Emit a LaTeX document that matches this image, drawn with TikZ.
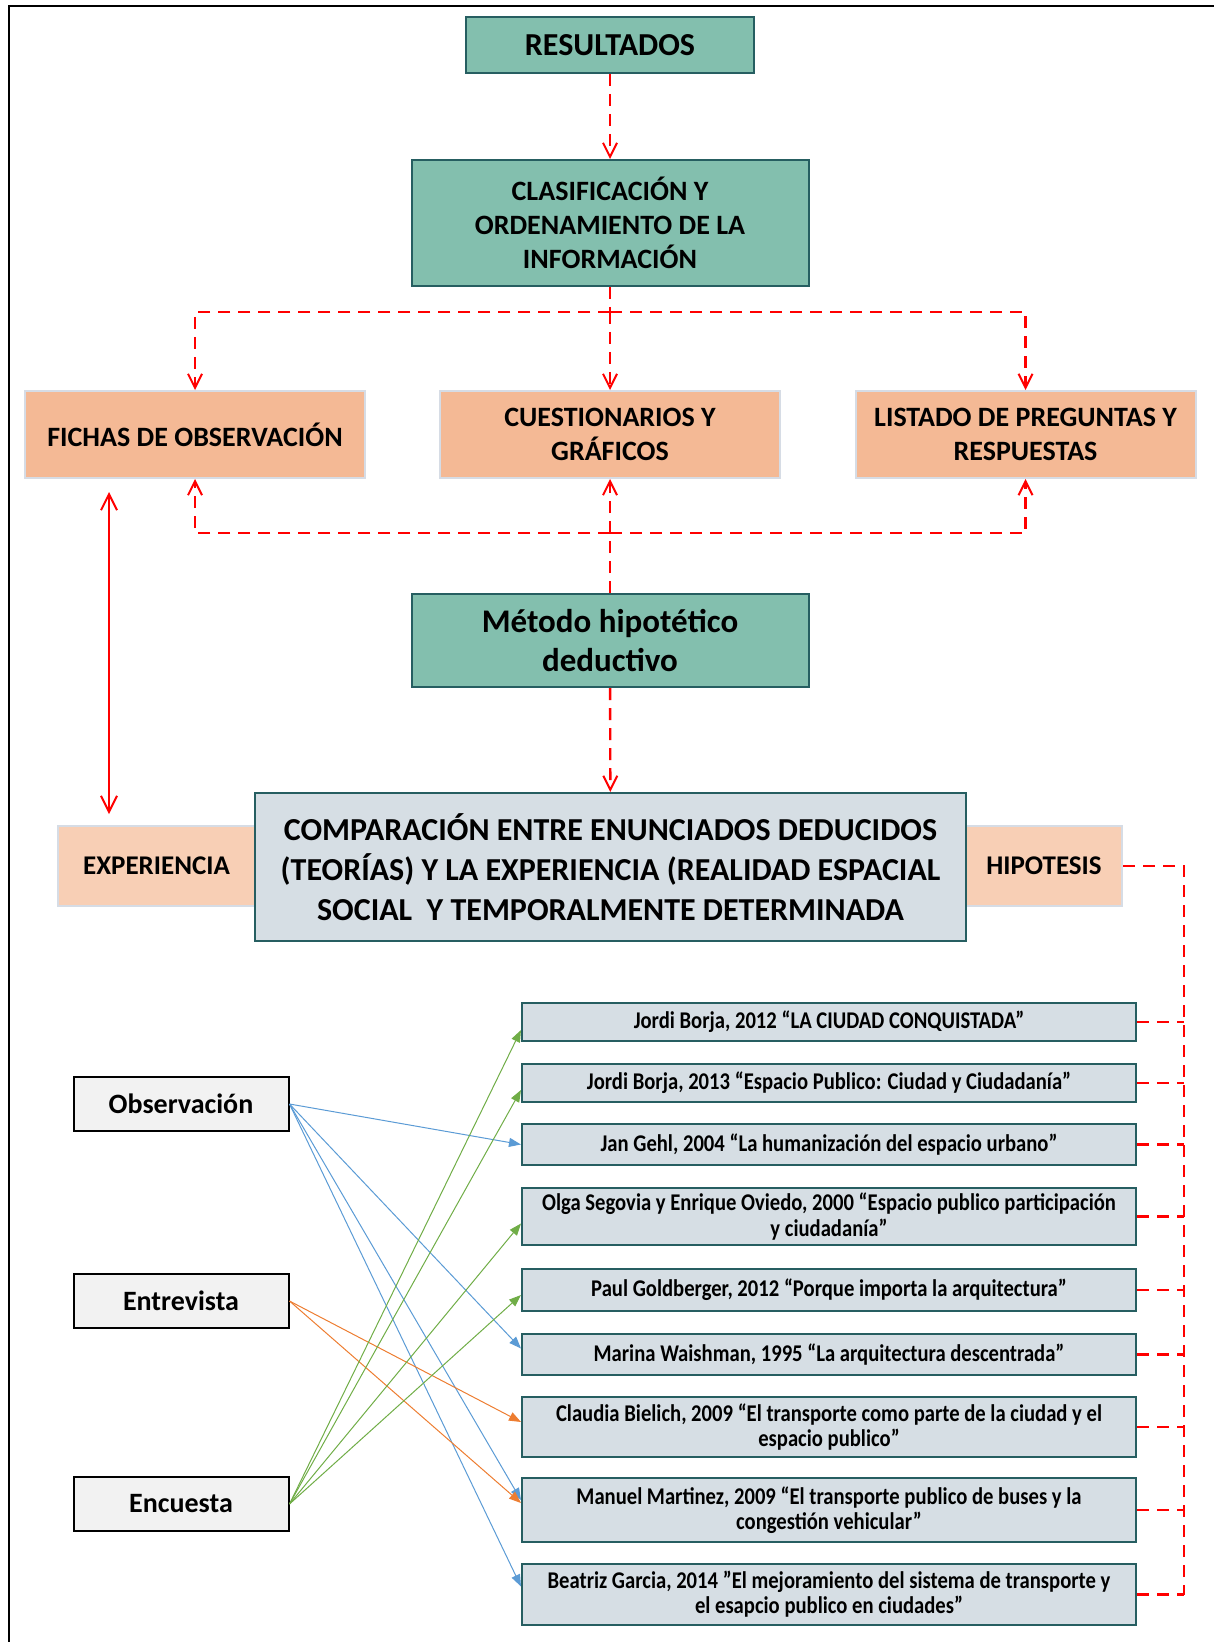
\documentclass[tikz,border=0pt]{standalone}
\usepackage{fontspec}
\setmainfont{Carlito}
\newfontfamily\narrowfont{Carlito}[FakeStretch=0.86]
\usepackage{tikz}
\usetikzlibrary{arrows.meta}
\definecolor{tealfill}{RGB}{131,191,174}
\definecolor{tealline}{RGB}{38,94,97}
\definecolor{salmon}{RGB}{244,185,149}
\definecolor{paleline}{RGB}{214,220,229}
\definecolor{peach}{RGB}{248,207,181}
\definecolor{slate}{RGB}{214,222,228}
\definecolor{lightgrey}{RGB}{242,242,242}
\definecolor{linkblue}{RGB}{91,155,213}
\definecolor{linkorange}{RGB}{237,125,49}
\definecolor{linkgreen}{RGB}{112,173,71}
\tikzstyle{box} = [inner sep=0pt, align=center]
\tikzstyle{greenbox} = [box, fill=tealfill, draw=tealline, line width=1pt]
\tikzstyle{orangebox} = [box, fill=salmon, draw=paleline, line width=1pt, minimum width=170pt, minimum height=43.5pt,
                         font=\bfseries\fontsize{14}{16.8}\selectfont]
\tikzstyle{peachbox} = [box, fill=peach, draw=paleline, line width=1pt, minimum height=40pt,
                        font=\bfseries\fontsize{13.5}{16}\selectfont]
\tikzstyle{toolbox} = [box, fill=lightgrey, draw=black, line width=1pt, minimum width=107.5pt, minimum height=27pt,
                       font=\bfseries\fontsize{14}{16.8}\selectfont]
\tikzstyle{refbox} = [box, fill=slate, draw=tealline, line width=1pt, minimum width=307pt,
                      font=\narrowfont\bfseries\fontsize{12}{12.6}\selectfont]
\tikzstyle{dashlink} = [red, line width=1.2pt, dash pattern=on 6pt off 4pt]
\tikzstyle{solidlink} = [red, line width=1pt]
\tikzstyle{barb} = [-{Straight Barb[length=7pt,width=7pt,line width=1pt]}]
\tikzstyle{thinlink} = [line width=0.5pt, -{Triangle[length=6pt,width=4.5pt]}]

\begin{document}
\begin{tikzpicture}[x=0.5pt,y=-0.5pt]
\useasboundingbox (0,0) rectangle (1214,1642);
\draw[line width=1pt] (9,1642) -- (9,6) -- (1214,6);

\node[greenbox,minimum width=144pt,minimum height=28pt,font=\bfseries\fontsize{16}{19}\selectfont] (res) at (610,45) {RESULTADOS};
\node[greenbox,minimum width=198.5pt,minimum height=63pt,font=\bfseries\fontsize{14}{17}\selectfont] (clas) at (610,223)
  {CLASIFICACIÓN Y\\ORDENAMIENTO DE LA\\INFORMACIÓN};

\node[orangebox] (fichas) at (195,434.5)  {FICHAS DE OBSERVACIÓN};
\node[orangebox] (cues)   at (610,434.5)  {CUESTIONARIOS Y\\GRÁFICOS};
\node[orangebox] (list)   at (1025.5,434.5) {LISTADO DE PREGUNTAS Y\\RESPUESTAS};

\node[greenbox,minimum width=198.5pt,minimum height=46.5pt,font=\bfseries\fontsize{16.5}{19.5}\selectfont] (met) at (610,640.5)
  {Método hipotético\\deductivo};

\node[peachbox,minimum width=98.5pt] (exper) at (156.5,866) {EXPERIENCIA};
\node[peachbox,minimum width=78pt]   (hip)   at (1044,866)  {HIPOTESIS};
\node[greenbox,fill=slate,minimum width=355.5pt,minimum height=74pt,font=\bfseries\fontsize{16}{20}\selectfont] (comp) at (610.5,867)
  {COMPARACIÓN ENTRE ENUNCIADOS DEDUCIDOS\\(TEORÍAS) Y LA EXPERIENCIA (REALIDAD ESPACIAL\\SOCIAL\ \ Y TEMPORALMENTE DETERMINADA};

% fuentes
\node[refbox,minimum height=19pt]   (r1) at (829,1022)   {Jordi Borja, 2012 “LA CIUDAD CONQUISTADA”};
\node[refbox,minimum height=19pt]   (r2) at (829,1083)   {Jordi Borja, 2013 “Espacio Publico: Ciudad y Ciudadanía”};
\node[refbox,minimum height=20.5pt] (r3) at (829,1144.5) {Jan Gehl, 2004 “La humanización del espacio urbano”};
\node[refbox,minimum height=28.5pt] (r4) at (829,1216.5) {Olga Segovia y Enrique Oviedo, 2000 “Espacio publico participación\\y ciudadanía”};
\node[refbox,minimum height=21pt]   (r5) at (829,1290)   {Paul Goldberger, 2012 “Porque importa la arquitectura”};
\node[refbox,minimum height=20.5pt] (r6) at (829,1354.5) {Marina Waishman, 1995 “La arquitectura descentrada”};
\node[refbox,minimum height=30pt]   (r7) at (829,1427)   {Claudia Bielich,\ 2009 “El transporte como parte de la ciudad y el\\espacio publico”};
\node[refbox,minimum height=32pt]   (r8) at (829,1510)   {Manuel Martinez, 2009 “El transporte publico de buses y la\\congestión vehicular”};
\node[refbox,minimum height=30.5pt] (r9) at (829,1594.5) {Beatriz Garcia, 2014 ”El mejoramiento del sistema de transporte y\\el esapcio publico en ciudades”};

% instrumentos
\node[toolbox] (obs)  at (181,1104) {Observación};
\node[toolbox] (entr) at (181,1301) {Entrevista};
\node[toolbox] (enc)  at (181,1504) {Encuesta};

\coordinate (tb) at (610,312);
\coordinate (bb) at (610,533);
\coordinate (hb) at (1184,1594.5);
\coordinate (ua) at (109,492);
\coordinate (ub) at (109,814);

\draw[dashlink,barb] (res) -- (clas);
\draw[dashlink] (clas) -- (tb);
\draw[dashlink,barb] (tb) -| (fichas);
\draw[dashlink,barb] (tb) -- (cues);
\draw[dashlink,barb] (tb) -| (list);
\draw[dashlink] (met) -- (bb);
\draw[dashlink,barb] (bb) -| (fichas);
\draw[dashlink,barb] (bb) -- (cues);
\draw[dashlink,barb] (bb) -| (list);
\draw[dashlink,barb] (met) -- (comp);
\draw[solidlink,{Straight Barb[length=8pt,width=8pt,line width=1pt]}-{Straight Barb[length=8pt,width=8pt,line width=1pt]}] (ua) -- (ub);

\draw[dashlink] (hip) -| (hb);
\foreach \r in {1,...,9}
  \draw[dashlink] (r\r.east) -- (r\r.east -| hb);

\foreach \r/\s in {r3/0,r6/3,r8/5,r9/4}
  \draw[thinlink,linkblue] (obs.east) -- ([yshift=\s pt]\r.west);
\foreach \r/\s in {r7/2.5,r8/3.5}
  \draw[thinlink,linkorange] (entr.east) -- ([yshift=\s pt]\r.west);
\foreach \r/\s in {r1/-4,r2/-3.5,r4/-3.5,r5/-2.5}
  \draw[thinlink,linkgreen] (enc.east) -- ([yshift=\s pt]\r.west);
\end{tikzpicture}
\end{document}
